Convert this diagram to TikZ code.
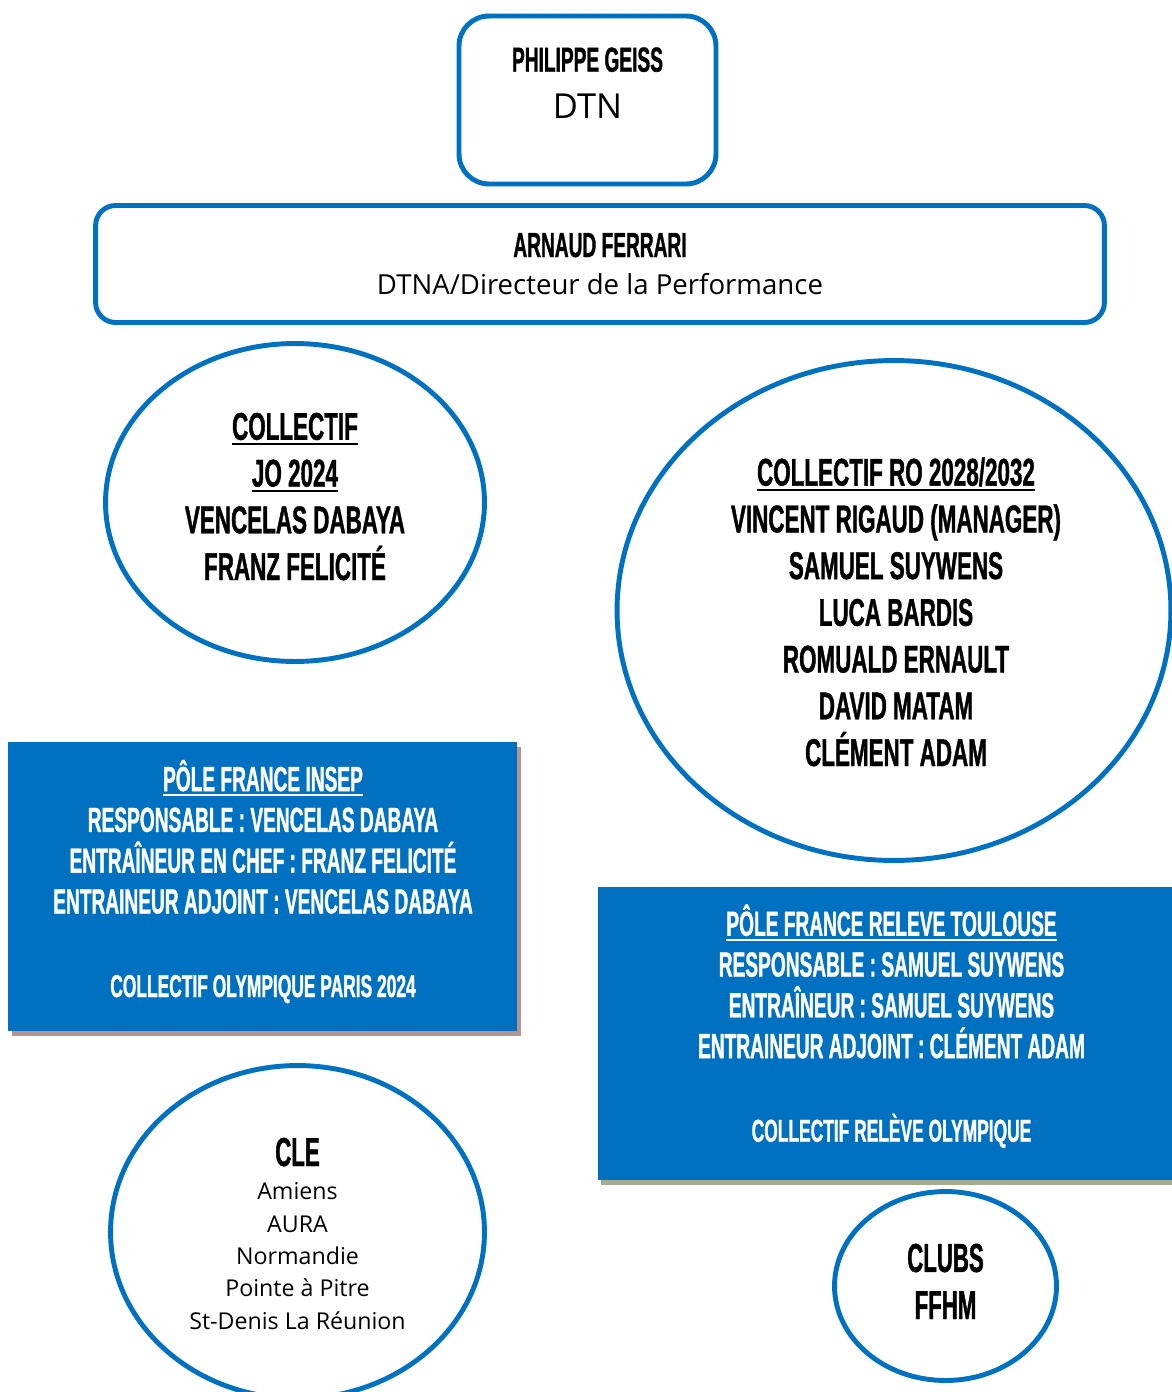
\documentclass[tikz,border=0pt]{standalone}
\usepackage{fontspec}
\setmainfont{Open Sans}
\newfontfamily\headfont[FakeStretch=0.55,FakeBold=1]{Liberation Sans Bold}
\newfontfamily\namehead[FakeStretch=0.58,FakeBold=1]{Liberation Sans Bold}
\usetikzlibrary{shapes.geometric,shadows}
\definecolor{ffblue}{HTML}{0070C0}
\definecolor{insepshadow}{HTML}{B39490}
\definecolor{toulshadow}{HTML}{A6AD8E}
\newcommand{\linewd}{2.8pt}
\newcommand{\namefont}{\namehead\fontsize{22}{26.6}\selectfont}
\newcommand{\boxfont}{\headfont\fontsize{19.8}{23.2}\selectfont}
\newcommand{\smallboxfont}{\headfont\fontsize{18}{23.2}\selectfont}
\newcommand{\bigfont}{\headfont\fontsize{23}{26.8}\selectfont}
\newcommand{\listfont}{\fontsize{13.2}{18.4}\selectfont}
\newcommand{\ulin}[1]{\setbox0=\hbox{#1}\rlap{\rule[-3pt]{\wd0}{1.1pt}}\box0}

\begin{document}
\begin{tikzpicture}[x=.02cm,y=-.02cm,
    frame/.style={draw=ffblue, line width=\linewd, inner sep=0pt},
    oval/.style={frame, ellipse},
    bluebox/.style={fill=ffblue, inner sep=0pt},
    txt/.style={inner sep=0pt, anchor=base, align=center}]
    \useasboundingbox (0,0) rectangle (1171,1392);
    % frames
        \node (dtnbox) at (587.5,100) [frame, rounded corners=.6cm, minimum width=5.14cm, minimum height=3.36cm] {};
        \node (ferrbox) at (600,264) [frame, rounded corners=.4cm, minimum width=20.18cm, minimum height=2.34cm] {};
        \node (jo) at (295,502.5) [oval, minimum width=7.58cm, minimum height=6.36cm] {};
        \node (ro) at (894,610.5) [oval, minimum width=11.08cm, minimum height=10cm] {};
        \node (insep) at (262.5,886.5) [bluebox, drop shadow={shadow xshift=.08cm, shadow yshift=-.1cm, fill=insepshadow, opacity=1}, minimum width=10.18cm, minimum height=5.78cm] {};
        \node (toulouse) at (891.5,1033.5) [bluebox, drop shadow={shadow xshift=.06cm, shadow yshift=-.1cm, fill=toulshadow, opacity=1}, minimum width=11.74cm, minimum height=5.86cm] {};
        \node (cle) at (297.5,1232) [oval, minimum width=7.48cm, minimum height=6.66cm] {};
        \node (clubs) at (945.5,1286) [oval, minimum width=4.44cm, minimum height=3.78cm] {};
    % texts (base = last line)
        \node (geiss) at (587.5,71.7) [txt, font=\boxfont] {PHILIPPE GEISS};
        \node (dtn) at (587.5,119) [txt, font=\fontsize{19.6}{24}\selectfont] {DTN};
        \node (ferrari) at (600,257) [txt, font=\boxfont] {ARNAUD FERRARI};
        \node (dtna) at (600,294) [txt, font=\fontsize{15.7}{20}\selectfont] {DTNA/Directeur de la Performance};
        \node (jotxt) at (295,580) [txt, font=\namefont] {\ulin{COLLECTIF}\\ \ulin{JO 2024}\\ VENCELAS DABAYA\\ FRANZ FELICITÉ};
        \node (rotxt) at (896,766) [txt, font=\namefont] {\ulin{COLLECTIF RO 2028/2032}\\ VINCENT RIGAUD (MANAGER)\\ SAMUEL SUYWENS\\ LUCA BARDIS\\ ROMUALD ERNAULT\\ DAVID MATAM\\ CLÉMENT ADAM};
        \node (inseptxt) at (263,997) [txt, white, font=\boxfont] {\ulin{PÔLE FRANCE INSEP}\\ RESPONSABLE : VENCELAS DABAYA\\ ENTRAÎNEUR EN CHEF : FRANZ FELICITÉ\\ ENTRAINEUR ADJOINT : VENCELAS DABAYA\\[24.4pt] {\smallboxfont COLLECTIF OLYMPIQUE PARIS 2024}};
        \node (toultxt) at (891.5,1141.7) [txt, white, font=\boxfont] {\ulin{PÔLE FRANCE RELEVE TOULOUSE}\\ RESPONSABLE : SAMUEL SUYWENS\\ ENTRAÎNEUR : SAMUEL SUYWENS\\ ENTRAINEUR ADJOINT : CLÉMENT ADAM\\[24.4pt] {\smallboxfont COLLECTIF RELÈVE OLYMPIQUE}};
        \node (cletitle) at (297.5,1166) [txt, font=\bigfont] {CLE};
        \node (cletxt) at (297.5,1329) [txt, font=\listfont] {Amiens\\ AURA\\ Normandie\\ Pointe à Pitre\\ St-Denis La Réunion};
        \node (clubstxt) at (945.5,1319) [txt, font=\bigfont] {CLUBS\\ FFHM};
\end{tikzpicture}
\end{document}
